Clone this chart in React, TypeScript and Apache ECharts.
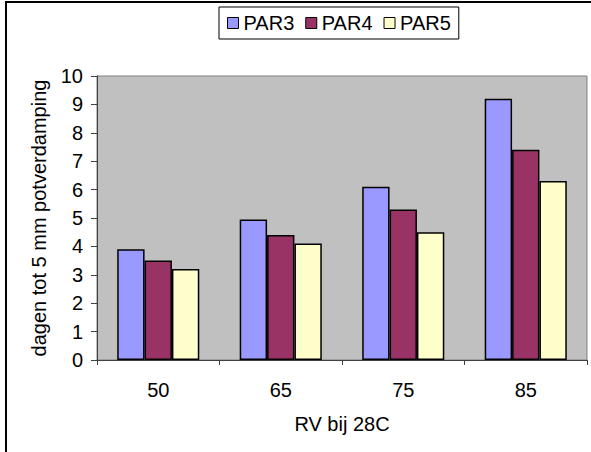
import React, { useEffect, useRef } from "react";
import * as echarts from "echarts";

const categories = ["50", "65", "75", "85"];
const seriesNames = ["PAR3", "PAR4", "PAR5"];
const par3 = [3.9, 4.95, 6.1, 9.2];
const par4 = [3.5, 4.4, 5.3, 7.4];
const par5 = [3.2, 4.1, 4.5, 6.3];
const yTicks = { min: 0, max: 10, interval: 1 };

const colors = ["#9999FF", "#993366", "#FFFFCC"];
const FONT = "Liberation Sans, Arial, sans-serif";
const FS = 20;

export default function App() {
  const ref = useRef<HTMLDivElement>(null);

  useEffect(() => {
    if (!ref.current) return;
    const chart = echarts.init(ref.current, undefined, { renderer: "svg" });
    const values = [par3, par4, par5];
    chart.setOption({
      animation: false,
      backgroundColor: "#ffffff",
      textStyle: { fontFamily: FONT, color: "#000" },
      legend: {
        left: 219,
        top: 7,
        padding: [6, 8, 6, 8],
        borderColor: "#000",
        borderWidth: 1,
        itemWidth: 11,
        itemHeight: 11,
        itemGap: 11,
        icon: "rect",
        itemStyle: { borderColor: "#000", borderWidth: 1 },
        textStyle: { fontFamily: FONT, fontSize: FS, color: "#000" },
        data: seriesNames,
      },
      grid: {
        left: 97,
        top: 76,
        right: 4,
        bottom: 92,
        show: true,
        backgroundColor: "#C0C0C0",
        borderColor: "#808080",
        borderWidth: 1,
      },
      xAxis: {
        type: "category",
        data: categories,
        name: "RV bij 28C",
        nameLocation: "middle",
        nameGap: 54,
        nameTextStyle: { fontFamily: FONT, fontSize: FS, color: "#000" },
        axisLine: { lineStyle: { color: "#404040", width: 1 } },
        axisTick: { show: true, inside: false, length: 5, alignWithLabel: false, lineStyle: { color: "#404040" } },
        axisLabel: { fontFamily: FONT, fontSize: FS, color: "#000", margin: 20 },
        splitLine: { show: false },
      },
      yAxis: {
        type: "value",
        min: yTicks.min,
        max: yTicks.max,
        interval: yTicks.interval,
        name: "dagen tot 5 mm potverdamping",
        nameLocation: "middle",
        nameGap: 48,
        nameTextStyle: { fontFamily: FONT, fontSize: FS, color: "#000" },
        axisLine: { show: true, lineStyle: { color: "#404040", width: 1 } },
        axisTick: { show: true, inside: false, length: 6, lineStyle: { color: "#404040" } },
        axisLabel: { fontFamily: FONT, fontSize: FS, color: "#000", margin: 14 },
        splitLine: { show: false },
      },
      series: seriesNames.map((name, i) => ({
        name,
        type: "bar",
        data: values[i],
        barGap: "0%",
        barCategoryGap: "33%",
        itemStyle: { color: colors[i], borderColor: "#000", borderWidth: 1.5 },
      })),
      graphic: [
        {
          type: "rect",
          shape: { x: 6, y: 2, width: 700, height: 600 },
          style: { fill: "none", stroke: "#000", lineWidth: 2 },
          silent: true,
        },
      ],
    });
    return () => chart.dispose();
  }, []);

  return (
    <div
      ref={ref}
      style={{ position: "absolute", left: 0, top: 0, width: 591, height: 452 }}
    />
  );
}
